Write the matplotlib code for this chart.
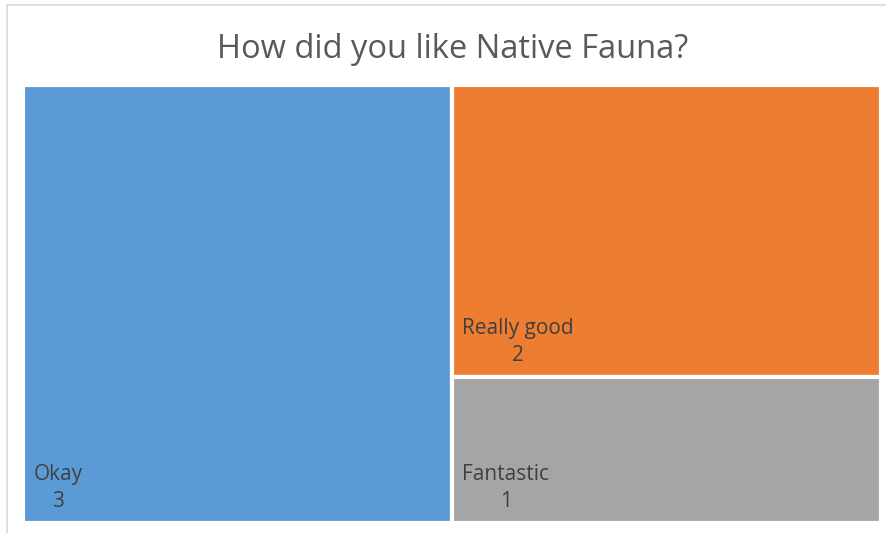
import matplotlib
matplotlib.use("Agg")
import matplotlib.pyplot as plt
from matplotlib.patches import Rectangle

# data
labels = ["Okay", "Really good", "Fantastic"]
values = [3, 2, 1]
colors = ["#5B9BD5", "#ED7D31", "#A5A5A5"]
title = "How did you like Native Fauna?"

plt.rcParams['font.family'] = ['Open Sans', 'DejaVu Sans']

W, H = 886, 533
fig = plt.figure(figsize=(W / 100, H / 100), dpi=100)

# chart border (light gray frame)
fig.patches.append(Rectangle((7 / W, -0.1), 1.2, 1 - 5 / H + 0.1, transform=fig.transFigure,
                             fill=False, edgecolor="#D9D9D9", linewidth=1.2))

ax = fig.add_axes([23 / W, 1 - 523 / H, (881 - 23) / W, (523 - 85) / H])
ax.set_xlim(0, 1)
ax.set_ylim(0, 1)
ax.axis("off")

# simple slice layout: first item takes a column, rest stacked vertically
total = sum(values)
w0 = values[0] / total
rects = [(0, 0, w0, 1)]
rest = sum(values[1:])
top = 1.0
for v in values[1:]:
    h = v / rest
    rects.append((w0, top - h, 1 - w0, h))
    top -= h

for (x, y, w, h), lab, val, c in zip(rects, labels, values, colors):
    ax.add_patch(Rectangle((x, y), w, h, facecolor=c, edgecolor="white", linewidth=3))
    ax.annotate(f"{lab}\n{val}", xy=(x, y), xytext=(7.5, 8), textcoords="offset points",
                ha="left", va="bottom", multialignment="center",
                fontsize=15, color="#404040", linespacing=1.35)

fig.text(453 / W, 1 - 50 / H, title, ha="center", va="center", fontsize=23.5, color="#595959")

fig.savefig("out.png", dpi=100)
